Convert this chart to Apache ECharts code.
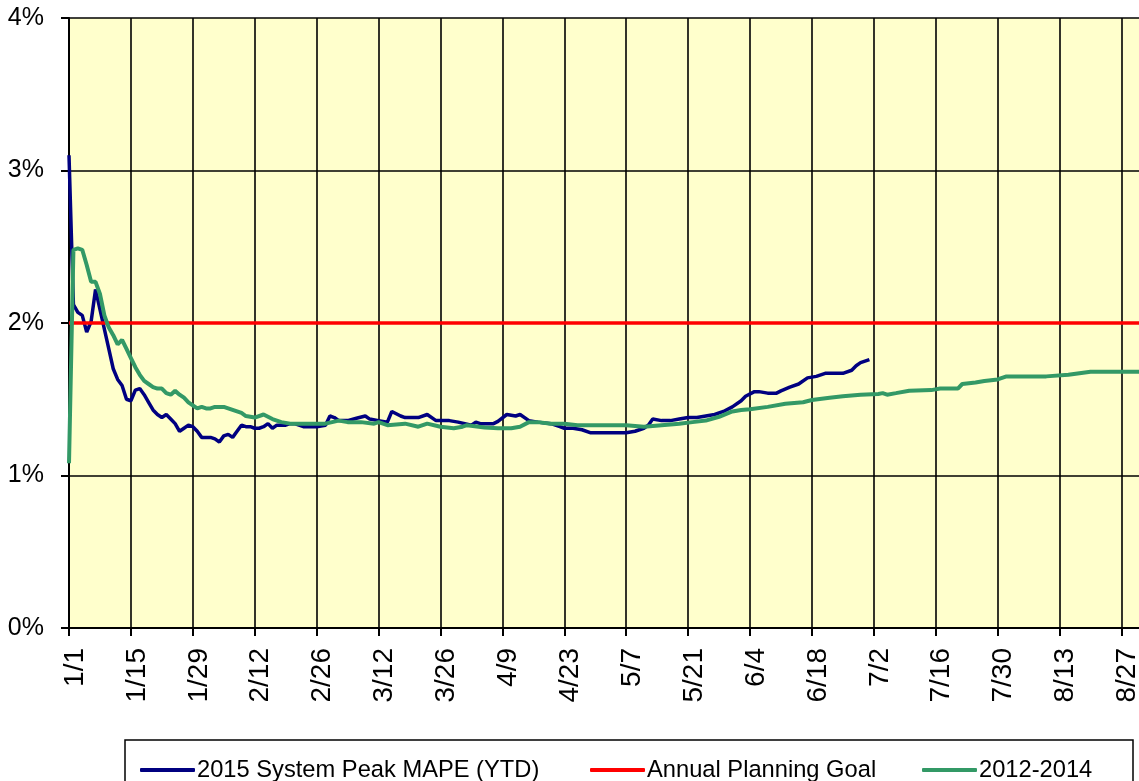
<!DOCTYPE html>
<html>
<head>
<meta charset="utf-8">
<script src="https://cdn.jsdelivr.net/npm/echarts@6/dist/echarts.min.js"></script>
<style>
  html, body { margin: 0; padding: 0; background: #ffffff; }
  #chart { width: 1139px; height: 781px; }
</style>
</head>
<body>
<div id="chart"></div>
<script>
// Day-of-year index (0 = Jan 1, 2015) and MAPE in percent
const mape2015Days = [0,1,2,3,4,5,6,7,8,9,10,11,12,13,14,15,16,17,18,19,20,21,22,23,24,25,26,27,28,29,30,31,32,33,34,35,36,37,38,39,40,41,42,43,44,45,46,47,48,49,50,51,53,56,58,59,60,61,63,65,67,68,70,72,73,75,76,79,81,83,86,88,91,92,93,96,97,99,101,102,104,106,109,111,112,114,116,118,122,126,128,130,131,132,134,136,138,140,142,144,146,148,150,152,153,155,156,158,160,161,163,165,167,169,171,175,177,178,179,181];
const mape2015Vals = [3.10,2.12,2.07,2.05,1.94,2.01,2.22,2.09,1.96,1.83,1.70,1.63,1.59,1.50,1.49,1.56,1.57,1.53,1.48,1.43,1.40,1.38,1.40,1.37,1.34,1.29,1.31,1.33,1.32,1.29,1.25,1.25,1.25,1.24,1.22,1.26,1.27,1.25,1.29,1.33,1.32,1.32,1.31,1.31,1.32,1.34,1.31,1.33,1.33,1.33,1.34,1.34,1.32,1.32,1.33,1.39,1.38,1.36,1.36,1.375,1.39,1.37,1.36,1.35,1.42,1.39,1.38,1.38,1.40,1.36,1.36,1.35,1.33,1.35,1.34,1.34,1.355,1.40,1.39,1.40,1.36,1.35,1.34,1.32,1.31,1.31,1.30,1.28,1.28,1.28,1.29,1.31,1.33,1.37,1.36,1.36,1.37,1.38,1.38,1.39,1.40,1.42,1.45,1.49,1.52,1.55,1.55,1.54,1.54,1.555,1.58,1.60,1.64,1.65,1.67,1.67,1.69,1.72,1.74,1.76];

const histDays = [0,1,2,3,4,5,6,7,8,9,10,11,12,13,14,15,16,17,18,19,20,21,22,23,24,25,26,27,28,29,30,31,32,33,35,36,37,39,40,42,44,46,48,50,56,58,61,63,66,69,70,72,76,79,81,84,87,89,90,94,97,100,102,104,106,109,112,115,118,122,126,130,134,138,141,144,147,150,152,154,158,162,166,168,172,175,179,183,184,185,187,190,195,197,201,202,205,207,210,212,221,226,231,244];
const histVals = [1.08,2.48,2.49,2.48,2.38,2.27,2.27,2.19,2.05,1.97,1.92,1.86,1.89,1.83,1.77,1.71,1.66,1.62,1.60,1.58,1.57,1.57,1.54,1.53,1.555,1.53,1.51,1.48,1.46,1.44,1.45,1.44,1.44,1.45,1.45,1.44,1.43,1.41,1.39,1.38,1.40,1.37,1.35,1.34,1.34,1.34,1.36,1.35,1.35,1.34,1.35,1.33,1.34,1.32,1.34,1.32,1.31,1.32,1.33,1.315,1.31,1.31,1.32,1.35,1.35,1.34,1.34,1.33,1.33,1.33,1.33,1.32,1.33,1.34,1.35,1.36,1.385,1.42,1.43,1.435,1.45,1.47,1.48,1.495,1.51,1.52,1.53,1.535,1.54,1.53,1.54,1.556,1.56,1.57,1.57,1.60,1.61,1.62,1.63,1.65,1.65,1.66,1.68,1.68];

const goalDays = [0, 244];
const goalVals = [2, 2];

const seriesNames = ['2015 System Peak MAPE (YTD)', 'Annual Planning Goal', '2012-2014'];
const seriesColors = ['#000080', '#FF0000', '#339966'];

const yTickLabels = ['0%', '1%', '2%', '3%', '4%'];

function pairs(days, vals) {
  return days.map((d, i) => [d, vals[i]]);
}

function dayLabel(d) {
  if (d % 14 !== 0) return '';
  const dt = new Date(Date.UTC(2015, 0, 1) + d * 86400000);
  return (dt.getUTCMonth() + 1) + '/' + dt.getUTCDate();
}

const FONT = "'Liberation Sans', Arial, sans-serif";
const chart = echarts.init(document.getElementById('chart'), null, { renderer: 'canvas' });

function legendAt(idx, left) {
  return {
    data: [seriesNames[idx]],
    left: left,
    top: 758,
    icon: 'roundRect',
    itemWidth: 55,
    itemHeight: 4,
    itemGap: 0,
    padding: 0,
    z: 10,
    textStyle: { fontFamily: FONT, fontSize: 23.7, color: '#000', padding: [0, 0, 0, -3] }
  };
}

chart.setOption({
  animation: false,
  backgroundColor: '#ffffff',
  grid: {
    left: 69,
    top: 18,
    width: 1079,
    bottom: 153,
    containLabel: false,
    outerBoundsMode: 'none',
    show: true,
    backgroundColor: '#FFFFCC',
    borderWidth: 0
  },
  graphic: [{
    type: 'rect',
    z: 1,
    shape: { x: 125, y: 740, width: 1008, height: 80 },
    style: { fill: '#ffffff', stroke: '#000000', lineWidth: 1.5 }
  }],
  legend: [legendAt(0, 140), legendAt(1, 590), legendAt(2, 922)],
  xAxis: {
    type: 'value',
    min: 0,
    max: 244,
    interval: 14,
    axisLine: { show: true, onZero: false, lineStyle: { color: '#000', width: 2 } },
    axisTick: { show: true, inside: false, length: 8, lineStyle: { color: '#000', width: 2 } },
    splitLine: { show: true, lineStyle: { color: '#000', width: 1.6 } },
    axisLabel: {
      rotate: 90,
      margin: 20,
      verticalAlign: 'top',
      lineHeight: 12,
      fontFamily: FONT,
      fontSize: 28,
      color: '#000',
      formatter: dayLabel
    }
  },
  yAxis: {
    type: 'value',
    min: 0,
    max: 4,
    interval: 1,
    axisLine: { show: true, lineStyle: { color: '#000', width: 2 } },
    axisTick: { show: true, inside: false, length: 8, lineStyle: { color: '#000', width: 2 } },
    splitLine: { show: true, lineStyle: { color: '#000', width: 1.6 } },
    axisLabel: {
      margin: 25,
      fontFamily: FONT,
      fontSize: 25,
      color: '#000',
      formatter: v => yTickLabels[Math.round(v)]
    }
  },
  series: [
    {
      name: seriesNames[0],
      type: 'line',
      data: pairs(mape2015Days, mape2015Vals),
      showSymbol: false,
      symbol: 'none',
      lineStyle: { color: seriesColors[0], width: 3.5 },
      itemStyle: { color: seriesColors[0] },
      z: 3
    },
    {
      name: seriesNames[1],
      type: 'line',
      data: pairs(goalDays, goalVals),
      showSymbol: false,
      symbol: 'none',
      lineStyle: { color: seriesColors[1], width: 3.5 },
      itemStyle: { color: seriesColors[1] },
      z: 4
    },
    {
      name: seriesNames[2],
      type: 'line',
      data: pairs(histDays, histVals),
      showSymbol: false,
      symbol: 'none',
      lineStyle: { color: seriesColors[2], width: 4 },
      itemStyle: { color: seriesColors[2] },
      z: 5
    }
  ]
});
</script>
</body>
</html>
